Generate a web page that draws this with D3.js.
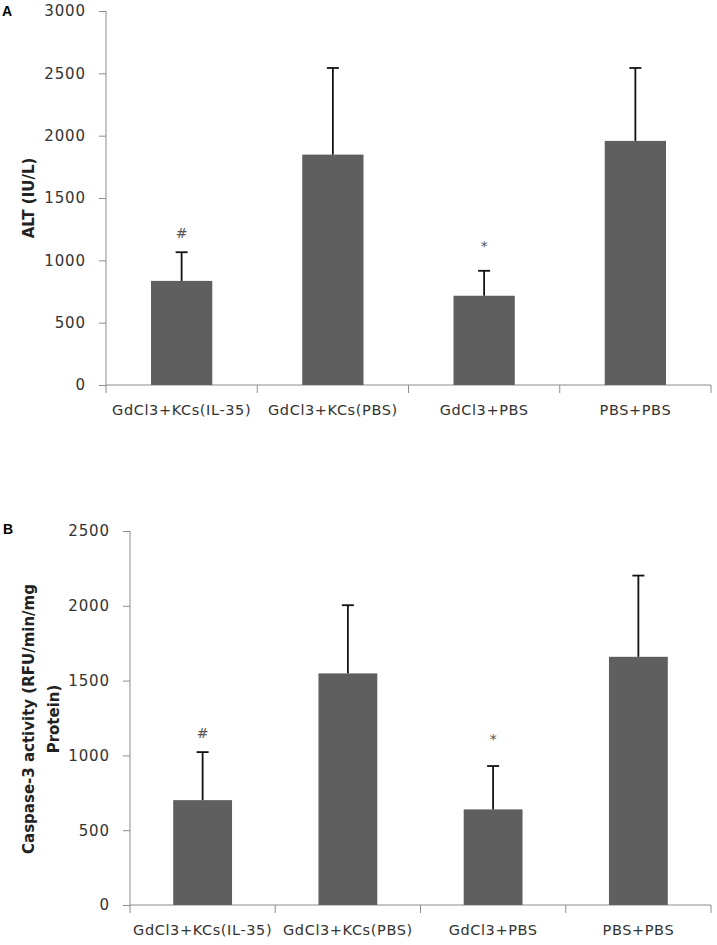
<!DOCTYPE html>
<html><head><meta charset="utf-8">
<script src="https://cdn.jsdelivr.net/npm/d3@7"></script>
<style>body{margin:0;background:#fff}</style>
</head><body>
<svg id="c" width="717" height="945"></svg>
<script>
const categories = ["GdCl3+KCs(IL-35)", "GdCl3+KCs(PBS)", "GdCl3+PBS", "PBS+PBS"];
const altMeans = [835, 1848, 716, 1958];
const altErrors = [230, 695, 200, 585];
const altMarks = ["#", "", "*", ""];
const altTicks = [0, 500, 1000, 1500, 2000, 2500, 3000];
const caspMeans = [701, 1548, 639, 1659];
const caspErrors = [321, 456, 290, 543];
const caspMarks = ["#", "", "*", ""];
const caspTicks = [0, 500, 1000, 1500, 2000, 2500];

const svg = d3.select("#c");
const font = "'DejaVu Sans', Verdana, sans-serif";

function panel(cfg) {
  const g = svg.append("g");
  const x = d3.scaleBand().domain(categories).range([cfg.left, cfg.right]).padding(0);
  const y = d3.scaleLinear().domain([0, cfg.max]).range([cfg.bottom, cfg.top]);
  const bw = x.bandwidth() * 0.405;

  // y axis
  const ya = g.append("g").attr("transform", `translate(${cfg.left},0)`)
    .call(d3.axisLeft(y).tickValues(cfg.ticks).tickSize(7).tickPadding(13).tickFormat(d3.format("d")));
  ya.select(".domain").attr("stroke", "#8c8c8c").attr("d", `M-0,${cfg.top}V${cfg.bottom + 8}`);
  ya.selectAll(".tick line").attr("stroke", "#8c8c8c");
  ya.selectAll(".tick text").attr("fill", "#333").style("font-family", font).style("font-size", "15px").attr("letter-spacing", "0.9px");

  // x axis
  const xa = g.append("g").attr("transform", `translate(0,${cfg.bottom})`)
    .call(d3.axisBottom(x).tickSize(0).tickPadding(20));
  xa.select(".domain").attr("stroke", "#8c8c8c").attr("d", `M${cfg.left},0H${cfg.right}`);
  xa.selectAll(".tick text").attr("fill", "#333").style("font-family", font).style("font-size", "14.5px").attr("letter-spacing", "0.6px");
  // category boundary ticks
  g.selectAll(".bt").data(categories).enter().append("line")
    .attr("x1", d => x(d) + x.step()).attr("x2", d => x(d) + x.step())
    .attr("y1", cfg.bottom).attr("y2", cfg.bottom + 8).attr("stroke", "#8c8c8c");

  // bars
  g.selectAll(".bar").data(cfg.means).enter().append("rect")
    .attr("x", (d, i) => x(categories[i]) + x.bandwidth() / 2 - bw / 2)
    .attr("width", bw)
    .attr("y", d => y(d)).attr("height", d => cfg.bottom - y(d))
    .attr("fill", "#5f5f5f");

  // error bars
  cfg.means.forEach((m, i) => {
    const cx = x(categories[i]) + x.bandwidth() / 2;
    g.append("line").attr("x1", cx).attr("x2", cx).attr("y1", y(m)).attr("y2", y(m + cfg.errors[i]))
      .attr("stroke", "#111").attr("stroke-width", 1.8);
    g.append("line").attr("x1", cx - 6).attr("x2", cx + 6).attr("y1", y(m + cfg.errors[i])).attr("y2", y(m + cfg.errors[i]))
      .attr("stroke", "#111").attr("stroke-width", 1.8);
    if (cfg.marks[i]) {
      g.append("text").attr("x", cx).attr("y", y(m + cfg.errors[i]) - cfg.markOff[i])
        .attr("text-anchor", "middle").attr("fill", "#555")
        .style("font-family", font).style("font-size", "14px").text(cfg.marks[i]);
    }
  });

  // panel letter
  g.append("text").attr("x", cfg.letterX).attr("y", cfg.letterY).text(cfg.letter)
    .style("font-family", "'Liberation Sans', Arial, sans-serif").style("font-weight", "bold").style("font-size", "14px");

  // y label
  const yl = g.append("text").attr("transform", `translate(${cfg.ylx},${cfg.yly}) rotate(-90)`)
    .attr("text-anchor", "middle").attr("fill", "#222")
    .style("font-family", font).style("font-weight", "bold").style("font-size", "15px");
  cfg.ylabel.forEach((t, k) => {
    yl.append("tspan").attr("x", 0).attr("dy", k === 0 ? 0 : 25).text(t);
  });
}

panel({left: 106, right: 711, top: 11, bottom: 385, max: 3000, ticks: altTicks,
  means: altMeans, errors: altErrors, marks: altMarks, markOff: [14, 0, 20, 0],
  letter: "A", letterX: 2, letterY: 16, ylabel: ["ALT (IU/L)"], ylx: 34, yly: 198});

panel({left: 130, right: 711, top: 531, bottom: 905, max: 2500, ticks: caspTicks,
  means: caspMeans, errors: caspErrors, marks: caspMarks, markOff: [14, 0, 22, 0],
  letter: "B", letterX: 3, letterY: 534, ylabel: ["Caspase-3 activity (RFU/min/mg", "Protein)"], ylx: 34, yly: 719});
</script>
</body></html>
